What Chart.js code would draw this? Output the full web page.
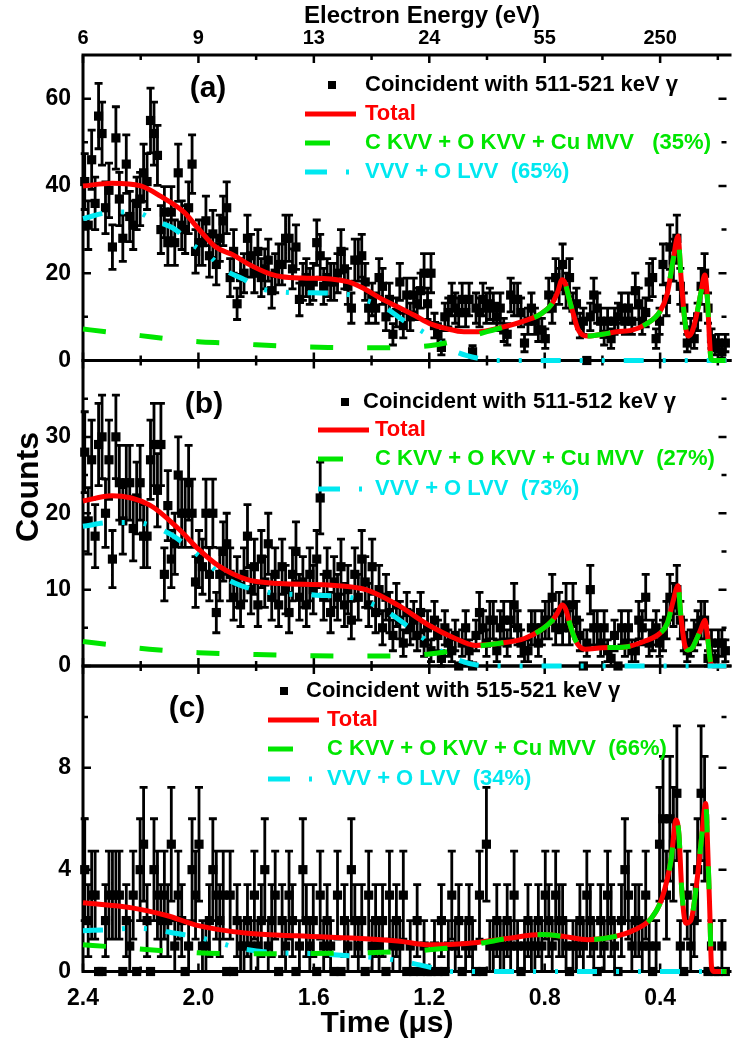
<!DOCTYPE html>
<html>
<head>
<meta charset="utf-8">
<script src="https://cdn.jsdelivr.net/npm/chart.js@4.4.1/dist/chart.umd.min.js"></script>
<style>
html,body{margin:0;padding:0;background:#fff;}
#wrap{position:relative;width:733px;height:1051px;}
canvas{display:block;}
</style>
</head>
<body>
<div id="wrap"><canvas id="c" width="733" height="1051"></canvas></div>
<script>
// ---------------- DATA ----------------
// time-bin grid (μs): first bin centre and bin width
const T_FIRST = 2.394;
const T_STEP = 0.012;

// (a) coincident with 511-521 keV γ
const COUNTS_A = [
41,31,46,36,56,52,35,39,26,51,
37,28,45,33,31,36,37,43,41,55,
52,47,30,34,27,34,27,43,31,30,
35,45,25,27,27,32,24,29,22,28,
32,35,19,25,13,19,20,28,24,20,
25,19,21,23,16,20,22,22,28,28,
21,26,14,18,19,17,18,27,24,17,
19,18,18,20,25,21,17,12,23,23,
24,18,12,14,12,19,17,10,14,6,
11,18,8,15,10,15,13,16,20,13,
20,8,6,3,10,11,14,12,11,14,
11,14,2,12,11,14,12,13,12,10,
12,7,6,15,14,14,11,4,9,12,
9,7,7,5,15,12,19,17,22,16,
19,12,13,8,9,0,10,15,12,9,
6,9,5,9,10,12,9,12,9,16,
13,9,11,18,19,5,9,22,14,26,
23,28,17,12,4,7,5,10,17,20,
12,5,3,4,2,4];

// (b) coincident with 511-512 keV γ
const COUNTS_B = [
28,19,27,17,29,30,20,27,14,30,
24,19,24,24,18,22,24,17,17,27,
29,23,29,12,21,14,16,25,20,20,
24,20,11,14,13,20,12,20,7,12,
15,16,12,9,11,8,12,17,10,13,
8,14,11,16,9,12,8,13,10,7,
12,15,9,11,8,12,10,14,22,9,
12,7,11,9,13,8,10,6,12,9,
14,11,8,13,7,10,5,9,7,4,
8,6,3,7,5,6,4,7,3,5,
2,6,4,1,5,3,2,4,0,3,
5,2,0,4,7,5,3,6,6,2,
5,6,3,6,8,5,3,2,2,5,
5,3,5,6,6,9,5,7,5,8,
5,8,6,4,0,3,10,5,5,3,
5,2,1,4,0,5,3,5,2,2,
6,5,9,3,4,5,3,4,6,9,
8,10,6,4,2,3,4,5,6,6,
1,3,1,3,3,2];

// (c) coincident with 515-521 keV γ
const COUNTS_C = [
4,2,3,3,0,0,2,3,3,3,
3,0,2,1,3,0,4,5,2,0,
4,3,2,3,2,5,1,3,2,0,
1,4,3,5,1,1,2,4,3,2,
3,0,3,0,2,1,1,2,1,3,
1,2,4,1,2,3,0,2,1,3,
2,0,1,4,2,1,2,0,3,1,
2,1,0,3,0,2,1,4,2,1,
2,0,3,1,2,1,2,0,3,1,
2,1,3,0,1,0,2,0,1,0,
0,1,0,2,0,1,3,1,2,0,
1,2,1,0,3,0,5,1,1,2,
1,1,2,1,3,1,0,1,2,1,
1,2,1,3,2,1,3,2,2,1,
0,1,1,2,1,3,2,1,0,2,
1,3,2,1,0,2,4,3,1,2,
2,1,3,1,0,1,5,6,3,6,
5,7,1,0,3,1,2,4,7,6,
0,1,0,0,1,0];

// fitted curves, panel (a)
const A_TOTAL_T = [2.40,2.30,2.20,2.13,2.05,2.00,1.94,1.88,1.83,1.75,1.71,1.64,1.54,1.48,1.43,1.37,1.31,1.25,1.20,1.14,1.08,1.03,0.95,0.87,0.81,0.775,0.755,0.74,0.728,0.715,0.70,0.685,0.65,0.60,0.55,0.50,0.45,0.40,0.375,0.355,0.338,0.328,0.315,0.304,0.29,0.275,0.259,0.245,0.236,0.229,0.224,0.215,0.17];
const A_TOTAL_Y = [40.0,40.6,40.0,37.6,34.0,30.2,26.0,24.2,22.2,19.8,19.2,18.9,18.7,18.0,16.6,14.3,12.3,10.3,8.5,7.3,6.6,6.6,7.6,9.1,10.8,13.0,15.7,18.5,17.5,14.0,10.5,7.2,5.6,6.0,6.6,6.9,8.3,11.3,15.4,23.0,28.5,19.5,9.5,5.6,6.5,10.0,15.4,19.6,14.0,5.0,0.5,0,0];
const A_GREEN_T = [2.40,2.28,2.20,2.10,2.00,1.90,1.80,1.70,1.55,1.40,1.30,1.20,1.13,1.06,1.00,0.95,0.87,0.81,0.775,0.755,0.74,0.728,0.715,0.70,0.685,0.65,0.60,0.55,0.50,0.45,0.40,0.375,0.355,0.338,0.328,0.315,0.304,0.29,0.275,0.259,0.245,0.236,0.229,0.224,0.215,0.17];
const A_GREEN_Y = [7.2,6.3,5.7,4.9,4.3,4.0,3.6,3.3,3.0,2.9,3.0,3.4,4.2,5.5,6.6,7.5,9.1,10.8,13.0,15.7,18.5,17.5,14.0,10.5,7.2,5.6,6.0,6.6,6.9,8.3,11.3,15.4,23.0,28.5,19.5,9.5,5.6,6.5,10.0,15.4,19.6,14.0,5.0,0.5,0,0];
const A_CYAN_T = [2.40,2.30,2.22,2.15,2.08,2.03,1.96,1.91,1.84,1.79,1.71,1.60,1.49,1.42,1.35,1.29,1.23,1.165,1.10,1.03,0.97,0.17];
const A_CYAN_Y = [32.5,34.0,34.0,32.0,30.0,27.0,23.8,20.8,18.5,16.6,15.7,15.5,15.2,13.8,12.0,9.2,6.9,4.2,1.8,0.5,0,0];

// fitted curves, panel (b)
const B_TOTAL_T = [2.40,2.30,2.17,2.07,2.00,1.93,1.83,1.72,1.55,1.42,1.31,1.20,1.11,1.04,0.95,0.87,0.81,0.775,0.755,0.74,0.728,0.715,0.70,0.685,0.66,0.60,0.52,0.45,0.40,0.375,0.355,0.338,0.328,0.315,0.304,0.29,0.275,0.259,0.245,0.236,0.229,0.224,0.215,0.17];
const B_TOTAL_Y = [21.6,22.3,21.1,18.0,15.3,13.1,11.3,10.8,10.6,10.0,8.0,5.3,3.6,2.7,3.0,3.6,4.8,5.9,7.0,8.0,7.5,5.8,4.0,2.8,2.2,2.4,2.5,3.3,4.3,5.6,8.5,10.5,6.5,2.8,2.1,2.3,3.4,4.8,6.0,4.0,1.5,0.3,0,0];
const B_GREEN_T = [2.40,2.29,2.17,2.00,1.80,1.60,1.40,1.25,1.15,1.08,1.03,0.95,0.87,0.81,0.775,0.755,0.74,0.728,0.715,0.70,0.685,0.66,0.60,0.52,0.45,0.40,0.375,0.355,0.338,0.328,0.315,0.304,0.29,0.275,0.259,0.245,0.236,0.229,0.224,0.215,0.17];
const B_GREEN_Y = [3.2,2.7,2.2,1.75,1.5,1.35,1.3,1.4,1.8,2.2,2.6,3.0,3.6,4.8,5.9,7.0,8.0,7.5,5.8,4.0,2.8,2.2,2.4,2.5,3.3,4.3,5.6,8.5,10.5,6.5,2.8,2.1,2.3,3.4,4.8,6.0,4.0,1.5,0.3,0,0];
const B_CYAN_T = [2.40,2.30,2.22,2.15,2.09,2.03,1.97,1.91,1.85,1.75,1.60,1.45,1.35,1.25,1.17,1.10,1.03,0.97,0.17];
const B_CYAN_Y = [18.3,18.8,18.8,18.2,17.1,15.4,13.5,11.6,10.5,9.6,9.3,8.8,7.2,4.5,2.2,0.8,0.1,0,0];

// fitted curves, panel (c)
const C_TOTAL_T = [2.40,2.23,2.11,2.00,1.83,1.66,1.31,1.20,1.07,0.93,0.81,0.73,0.65,0.56,0.49,0.43,0.393,0.362,0.345,0.335,0.325,0.311,0.294,0.273,0.256,0.242,0.235,0.228,0.222,0.215,0.17];
const C_TOTAL_Y = [2.7,2.5,2.2,1.8,1.5,1.4,1.2,1.05,1.1,1.3,1.45,1.37,1.25,1.37,1.63,2.1,2.9,4.4,5.95,5.4,3.2,1.9,2.0,3.5,5.3,6.6,4.8,2.4,0.2,0,0];
const C_GREEN_T = [2.40,2.30,2.10,1.90,1.70,1.50,1.30,1.15,1.05,0.93,0.81,0.73,0.65,0.56,0.49,0.43,0.393,0.362,0.345,0.335,0.325,0.311,0.294,0.273,0.256,0.242,0.235,0.228,0.222,0.215,0.17];
const C_GREEN_Y = [1.05,0.97,0.8,0.7,0.7,0.72,0.78,0.9,1.05,1.3,1.45,1.37,1.25,1.37,1.63,2.1,2.9,4.4,5.95,5.4,3.2,1.9,2.0,3.5,5.3,6.6,4.8,2.4,0.2,0,0];
const C_CYAN_T = [2.40,2.30,2.22,2.15,2.08,2.00,1.92,1.85,1.75,1.60,1.45,1.35,1.25,1.17,1.12,0.17];
const C_CYAN_Y = [1.6,1.65,1.7,1.65,1.5,1.35,1.1,0.9,0.75,0.7,0.6,0.5,0.3,0.1,0,0];

// ticks
const X_MAJOR = [2.4, 2.0, 1.6, 1.2, 0.8, 0.4];
const X_MINOR = [2.2, 1.8, 1.4, 1.0, 0.6, 0.2];
const ENERGY_LABELS = ['6', '9', '13', '24', '55', '250'];
const YA_MAJOR = [0, 20, 40, 60], YA_MINOR = [10, 30, 50];
const YB_MAJOR = [0, 10, 20, 30], YB_MINOR = [5, 15, 25, 35];
const YC_MAJOR = [0, 4, 8],       YC_MINOR = [2, 6, 10];

// legend texts
const LEG_A = ['Coincident with 511-521 keV \u03b3', 'Total', 'C KVV + O KVV + Cu MVV   (35%)', 'VVV + O LVV  (65%)'];
const LEG_B = ['Coincident with 511-512 keV \u03b3', 'Total', 'C KVV + O KVV + Cu MVV  (27%)', 'VVV + O LVV  (73%)'];
const LEG_C = ['Coincident with 515-521 keV \u03b3', 'Total', 'C KVV + O KVV + Cu MVV  (66%)', 'VVV + O LVV  (34%)'];

// ---------------- STYLE / LAYOUT ----------------
const FONT = '"Liberation Sans", Arial, Helvetica, sans-serif';
const RED = '#ff0000', GREEN = '#00e600', CYAN = '#00e8f0', BLACK = '#000000';
const GREEN_DASH = [23, 34];
const CYAN_DASH = [20, 19, 3, 19, 3, 19];
const X_MIN = 0.17, X_MAX = 2.4;

const PANELS = [
  {id: 'ya', max: 70, major: YA_MAJOR, minor: YA_MINOR, tag: '(a)', tagX: 208, tagY: 97,
   leg: LEG_A, symX: 332, lineX: 305, textX: [365, 365, 365, 365], rows: [85, 114, 143, 172]},
  {id: 'yb', max: 40, major: YB_MAJOR, minor: YB_MINOR, tag: '(b)', tagX: 204, tagY: 413,
   leg: LEG_B, symX: 345, lineX: 318, textX: [363, 375, 375, 375], rows: [402, 430, 459, 489]},
  {id: 'yc', max: 12, major: YC_MAJOR, minor: YC_MINOR, tag: '(c)', tagX: 187, tagY: 717,
   leg: LEG_C, symX: 284, lineX: 268, textX: [306, 327, 327, 327], rows: [691, 720, 749, 779]}
];

const TIME = COUNTS_A.map((_, i) => +(T_FIRST - i * T_STEP).toFixed(3));

function pts(T, Y) { return T.map((t, i) => ({x: t, y: Y[i]})); }

function pointsDS(label, counts, axis) {
  return {label, type: 'line', data: pts(TIME, counts), xAxisID: 'x', yAxisID: axis,
    showLine: false, pointStyle: 'rect', pointRadius: 6.5, pointHoverRadius: 6.5,
    pointBackgroundColor: BLACK, pointBorderColor: BLACK, pointBorderWidth: 0,
    errorBars: true, order: 10, clip: false};
}
function curveDS(label, T, Y, axis, color, dash, order) {
  return {label, type: 'line', data: pts(T, Y), xAxisID: 'x', yAxisID: axis,
    borderColor: color, borderWidth: 5, borderDash: dash, borderCapStyle: 'butt',
    borderJoinStyle: 'round', pointRadius: 0, cubicInterpolationMode: 'monotone',
    tension: 0.4, fill: false, order, clip: false};
}

const datasets = [
  pointsDS('a data', COUNTS_A, 'ya'),
  curveDS('a total', A_TOTAL_T, A_TOTAL_Y, 'ya', RED, [], 3),
  curveDS('a cyan', A_CYAN_T, A_CYAN_Y, 'ya', CYAN, CYAN_DASH, 2),
  curveDS('a green', A_GREEN_T, A_GREEN_Y, 'ya', GREEN, GREEN_DASH, 1),
  pointsDS('b data', COUNTS_B, 'yb'),
  curveDS('b total', B_TOTAL_T, B_TOTAL_Y, 'yb', RED, [], 3),
  curveDS('b cyan', B_CYAN_T, B_CYAN_Y, 'yb', CYAN, CYAN_DASH, 2),
  curveDS('b green', B_GREEN_T, B_GREEN_Y, 'yb', GREEN, GREEN_DASH, 1),
  pointsDS('c data', COUNTS_C, 'yc'),
  curveDS('c total', C_TOTAL_T, C_TOTAL_Y, 'yc', RED, [], 3),
  curveDS('c cyan', C_CYAN_T, C_CYAN_Y, 'yc', CYAN, CYAN_DASH, 2),
  curveDS('c green', C_GREEN_T, C_GREEN_Y, 'yc', GREEN, GREEN_DASH, 1)
];

function yScale(p) {
  return {type: 'linear', position: 'left', stack: 'panels', stackWeight: 1, min: 0, max: p.max,
    afterBuildTicks: s => { s.ticks = p.major.map(v => ({value: v})); },
    afterFit: s => { s.width = 83; },
    grid: {display: false, drawTicks: false}, border: {display: false},
    ticks: {color: BLACK, padding: 12, font: {family: FONT, size: 23, weight: 'bold'}}};
}

// ---------------- PLUGINS ----------------
const framePlugin = {
  id: 'frame',
  beforeDatasetsDraw(chart) {
    const {ctx, chartArea} = chart;
    const xs = chart.scales.x;
    const L = chartArea.left, R = chartArea.right;
    ctx.save();
    ctx.strokeStyle = BLACK;
    ctx.lineCap = 'butt';
    PANELS.forEach(p => {
      const s = chart.scales[p.id];
      const top = s.top, bot = s.bottom;
      ctx.lineWidth = 3;
      ctx.beginPath();
      ctx.moveTo(L - 1.5, top); ctx.lineTo(R + 5, top);
      ctx.moveTo(L - 1.5, bot); ctx.lineTo(R + 5, bot);
      ctx.moveTo(L, top); ctx.lineTo(L, bot);
      ctx.stroke();
      ctx.lineWidth = 2.5;
      ctx.beginPath();
      const xt = (vals, len) => vals.forEach(v => {
        const x = xs.getPixelForValue(v);
        ctx.moveTo(x, top); ctx.lineTo(x, top + len);
        ctx.moveTo(x, bot); ctx.lineTo(x, bot - len);
      });
      xt(X_MAJOR, 8); xt(X_MINOR, 5);
      const yt = (vals, len) => vals.forEach(v => {
        const y = s.getPixelForValue(v);
        ctx.moveTo(L, y); ctx.lineTo(L + len, y);
        ctx.moveTo(R, y); ctx.lineTo(R - len, y);
      });
      yt(p.major, 8); yt(p.minor, 5);
      ctx.stroke();
    });
    // error bars (Poisson, sqrt(N))
    ctx.lineWidth = 2.8;
    chart.data.datasets.forEach((ds, di) => {
      if (!ds.errorBars) return;
      const meta = chart.getDatasetMeta(di);
      const ys = chart.scales[ds.yAxisID];
      ctx.beginPath();
      meta.data.forEach((el, i) => {
        const v = ds.data[i].y;
        const e = Math.sqrt(v);
        if (e <= 0) return;
        const x = el.x;
        const y1 = ys.getPixelForValue(v + e);
        const y2 = ys.getPixelForValue(Math.max(0, v - e));
        ctx.moveTo(x, y1); ctx.lineTo(x, y2);
        ctx.moveTo(x - 4, y1); ctx.lineTo(x + 4, y1);
        ctx.moveTo(x - 4, y2); ctx.lineTo(x + 4, y2);
      });
      ctx.stroke();
    });
    ctx.restore();
  }
};

const textPlugin = {
  id: 'texts',
  afterDraw(chart) {
    const ctx = chart.ctx;
    ctx.save();
    ctx.fillStyle = BLACK;
    ctx.textAlign = 'center';
    ctx.textBaseline = 'alphabetic';
    ctx.font = 'bold 24px ' + FONT;
    ctx.fillText('Electron Energy (eV)', 422, 23);
    ctx.font = 'bold 30px ' + FONT;
    ctx.fillText('Time (\u03bcs)', 387, 1032);
    ctx.save();
    ctx.translate(38, 487);
    ctx.rotate(-Math.PI / 2);
    ctx.font = 'bold 32px ' + FONT;
    ctx.fillText('Counts', 0, 0);
    ctx.restore();

    PANELS.forEach(p => {
      ctx.font = 'bold 30px ' + FONT;
      ctx.textAlign = 'center';
      ctx.textBaseline = 'alphabetic';
      ctx.fillStyle = BLACK;
      ctx.fillText(p.tag, p.tagX, p.tagY);

      ctx.font = 'bold 22px ' + FONT;
      ctx.textAlign = 'left';
      ctx.textBaseline = 'middle';
      const colors = [BLACK, RED, GREEN, CYAN];
      p.leg.forEach((t, i) => {
        ctx.fillStyle = colors[i];
        ctx.fillText(t, p.textX[i], p.rows[i]);
      });
      // symbols
      ctx.fillStyle = BLACK;
      ctx.fillRect(p.symX - 4, p.rows[0] - 4, 8, 8);
      ctx.lineCap = 'butt';
      ctx.lineWidth = 5;
      ctx.strokeStyle = RED;
      ctx.beginPath(); ctx.moveTo(p.lineX, p.rows[1]); ctx.lineTo(p.lineX + 51, p.rows[1]); ctx.stroke();
      ctx.strokeStyle = GREEN;
      ctx.beginPath(); ctx.moveTo(p.lineX, p.rows[2]); ctx.lineTo(p.lineX + 25, p.rows[2]); ctx.stroke();
      ctx.strokeStyle = CYAN;
      ctx.beginPath(); ctx.moveTo(p.lineX, p.rows[3]); ctx.lineTo(p.lineX + 22, p.rows[3]);
      ctx.moveTo(p.lineX + 41, p.rows[3]); ctx.lineTo(p.lineX + 44, p.rows[3]); ctx.stroke();
    });
    ctx.restore();
  }
};

// ---------------- CHART ----------------
new Chart(document.getElementById('c'), {
  type: 'line',
  data: {datasets},
  options: {
    responsive: false, animation: false, devicePixelRatio: 1, events: [],
    layout: {padding: 0},
    plugins: {legend: {display: false}, tooltip: {enabled: false}},
    scales: {
      x: {type: 'linear', position: 'bottom', min: X_MIN, max: X_MAX, reverse: true,
        afterBuildTicks: s => { s.ticks = X_MAJOR.map(v => ({value: v})); },
        afterFit: s => { s.height = 79.5; },
        grid: {display: false, drawTicks: false}, border: {display: false},
        ticks: {color: BLACK, padding: 13, maxRotation: 0, autoSkip: false,
          font: {family: FONT, size: 23, weight: 'bold'}, callback: v => Number(v).toFixed(1)}},
      x2: {type: 'linear', position: 'top', min: X_MIN, max: X_MAX, reverse: true,
        afterBuildTicks: s => { s.ticks = X_MAJOR.map(v => ({value: v})); },
        afterFit: s => { s.height = 55; },
        grid: {display: false, drawTicks: false}, border: {display: false},
        ticks: {color: BLACK, padding: 5, maxRotation: 0, autoSkip: false,
          font: {family: FONT, size: 20, weight: 'bold'}, callback: (v, i) => ENERGY_LABELS[i]}},
      yc: yScale(PANELS[2]),
      yb: yScale(PANELS[1]),
      ya: yScale(PANELS[0])
    }
  },
  plugins: [framePlugin, textPlugin]
});
</script>
</body>
</html>
